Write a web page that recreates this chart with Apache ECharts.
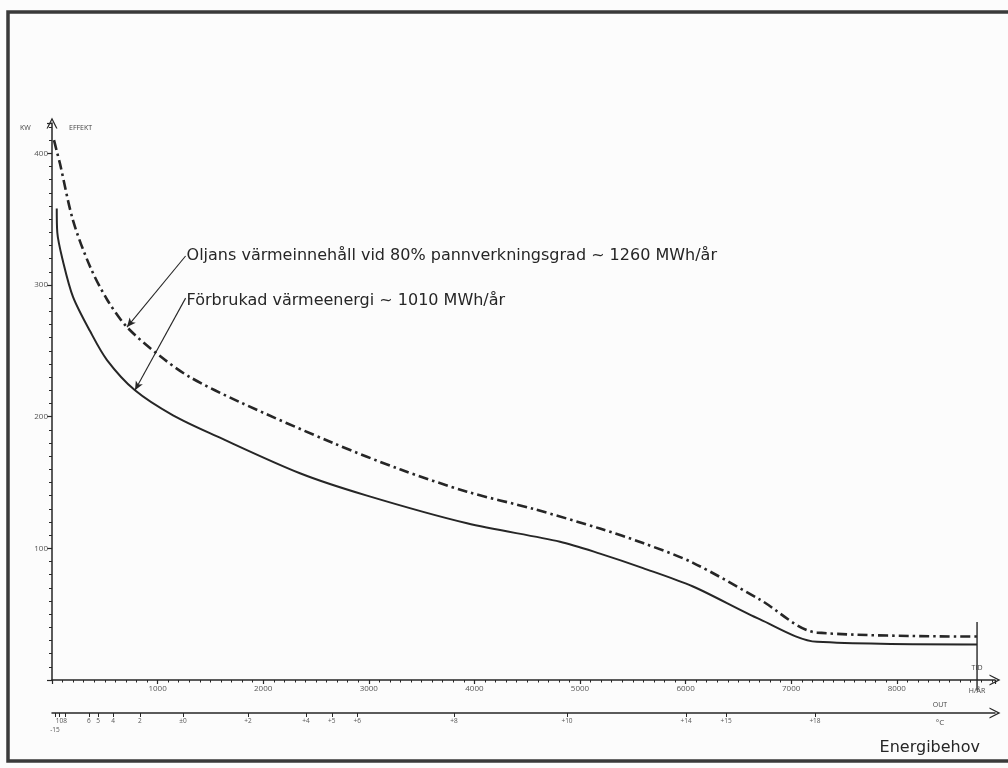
<!DOCTYPE html>
<html><head><meta charset="utf-8">
<script src="https://cdn.jsdelivr.net/npm/echarts@6/dist/echarts.min.js"></script>
<style>html,body{margin:0;padding:0;background:#fcfcfc;overflow:hidden}#c{width:1008px;height:768px}</style>
</head><body><div id="c"></div>
<script>
// ---- data (hours per year, kW) ----
const hoursUsed = [45, 50, 104, 199, 360, 521, 786, 1146, 1563, 2348, 2983, 3930, 4811, 5189, 5597, 6070, 6705, 7244, 8760];
const kwUsed    = [358, 340, 318, 291, 265, 243, 220, 201, 185, 157, 140, 119, 105, 96, 85, 71, 46, 29, 27];
const hoursOil  = [19, 47, 76, 199, 360, 521, 710, 1023, 1307, 1780, 2661, 3295, 3930, 4555, 5189, 5597, 6070, 6705, 7244, 8760];
const kwOil     = [410, 401, 392, 349, 314, 289, 268, 246, 230, 211, 180, 160, 143, 130, 115, 104, 89, 61, 36, 33];
const yearEndHours = [8760, 8760];
const yearEndKw = [44, -8];
// outdoor temperature scale (position in hours, label as drawn)
const tempHours  = [0, 28, 70, 125, 350, 436, 578, 833, 1240, 1856, 2405, 2650, 2890, 3807, 4877, 6004, 6383, 7225];
const tempLabels = ['20', '-15', '10', '8', '6', '5', '4', '2', '±0', '+2', '+4', '+5', '+6', '+8', '+10', '+14', '+15', '+18'];
const hourTicks = [1000, 2000, 3000, 4000, 5000, 6000, 7000, 8000];
const kwTicks = [100, 200, 300, 400];
// annotations: text anchor (h, kW) and arrow tip (h, kW)
const oilText = 'Oljans värmeinnehåll vid 80% pannverkningsgrad ~ 1260 MWh/år';
const oilFrom = [1265, 322]; const oilTip = [710, 268];
const usedText = 'Förbrukad värmeenergi ~ 1010 MWh/år';
const usedFrom = [1265, 290]; const usedTip = [786, 220];

const ink = '#262626';
const font = 'DejaVu Sans';
const smallFont = 'Open Sans';
const chevron = 'path://M0,10 L5,0 L10,10 L8.8,10 L5,2.6 L1.2,10 Z';
const zip = (a, b) => a.map((v, i) => [v, b[i]]);

const chart = echarts.init(document.getElementById('c'));
chart.setOption({
  backgroundColor: '#fcfcfc',
  animation: false,
  textStyle: {fontFamily: smallFont},
  grid: {left: 52, right: 13, top: 123, bottom: 88, containLabel: false},
  xAxis: [{
    type: 'value', min: 0, max: 8930, interval: 1000,
    axisLine: {show: true, onZero: false, symbol: ['none', chevron], symbolSize: [11, 12], lineStyle: {color: ink, width: 1.5}},
    axisTick: {show: true, length: 4, lineStyle: {color: ink, width: 1.2}},
    minorTick: {show: true, splitNumber: 10, length: 2.5, lineStyle: {color: ink}},
    axisLabel: {showMinLabel: false, showMaxLabel: false, fontSize: 8, color: '#555', margin: 5,
      formatter: v => hourTicks.includes(v) ? String(v) : ''},
    splitLine: {show: false}
  }, {
    type: 'value', min: 0, max: 8930, position: 'bottom', offset: 33,
    axisLine: {show: true, onZero: false, symbol: ['none', chevron], symbolSize: [11, 12], lineStyle: {color: ink, width: 1.5}},
    axisTick: {show: true, customValues: tempHours, length: 4, lineStyle: {color: ink}},
    axisLabel: {customValues: tempHours, fontSize: 6.5, color: '#555', margin: 4, lineHeight: 9,
      formatter: v => { const i = tempHours.indexOf(v); const t = i >= 0 ? tempLabels[i] : ''; return t === '-15' ? '\n' + t : t; }},
    splitLine: {show: false}
  }],
  yAxis: {
    type: 'value', min: 0, max: 423, interval: 100,
    axisLine: {show: true, onZero: false, symbol: ['none', chevron], symbolSize: [11, 12], lineStyle: {color: ink, width: 1.5}},
    axisTick: {show: true, length: 5, lineStyle: {color: ink, width: 1.2}},
    minorTick: {show: true, splitNumber: 10, length: 3, lineStyle: {color: ink}},
    axisLabel: {showMinLabel: false, showMaxLabel: false, fontSize: 8, color: '#555', margin: 4,
      formatter: v => kwTicks.includes(v) ? String(v) : ''},
    splitLine: {show: false}
  },
  series: [{
    name: 'Förbrukad', type: 'line', data: zip(hoursUsed, kwUsed), smooth: 0.3, symbol: 'none',
    lineStyle: {color: ink, width: 2},
    markLine: {silent: true, symbol: ['none', 'arrow'], symbolSize: [6, 9], label: {show: false},
      lineStyle: {type: 'solid', color: ink, width: 1.1},
      data: [[{coord: usedFrom}, {coord: usedTip}]]}
  }, {
    name: 'Oljans', type: 'line', data: zip(hoursOil, kwOil), smooth: 0.3, symbol: 'none',
    lineStyle: {color: ink, width: 2.6, type: [10, 4, 2.5, 4]},
    markLine: {silent: true, symbol: ['none', 'arrow'], symbolSize: [6, 9], label: {show: false},
      lineStyle: {type: 'solid', color: ink, width: 1.1},
      data: [[{coord: oilFrom}, {coord: oilTip}]]}
  }, {
    name: 'yearEnd', type: 'line', data: zip(yearEndHours, yearEndKw), symbol: 'none', clip: false,
    lineStyle: {color: ink, width: 1.4}
  }]
});

const px = (h, k) => chart.convertToPixel({gridIndex: 0}, [h, k]);
const pOil = px(oilFrom[0], oilFrom[1]);
const pUsed = px(usedFrom[0], usedFrom[1]);
const yTop = px(0, 423);
const xEnd = px(8760, 0);
const tempAxisY = xEnd[1] + 33;
const label = (x, y, text, size, family, align, color) => ({type: 'text', x: x, y: y, silent: true,
  style: {text: text, fontSize: size, fontFamily: family, fill: color || '#444', textAlign: align || 'left', textVerticalAlign: 'middle'}});
chart.setOption({
  graphic: [
    {type: 'polyline', shape: {points: [[1010, 12], [8, 12], [8, 761], [1010, 761]]}, style: {fill: 'none', stroke: '#3a3a3a', lineWidth: 3.5}, silent: true},
    label(pOil[0] + 1, pOil[1], oilText, 16, font, 'left', ink),
    label(pUsed[0] + 1, pUsed[1] + 3, usedText, 16, font, 'left', ink),
    label(yTop[0] - 32, yTop[1] + 5, 'KW', 7, smallFont),
    label(yTop[0] + 17, yTop[1] + 5, 'EFFEKT', 7, smallFont),
    label(xEnd[0], xEnd[1] - 12, 'TID', 7, smallFont, 'center'),
    label(xEnd[0], xEnd[1] + 11, 'H/ÅR', 7, smallFont, 'center'),
    label(940, tempAxisY - 8, 'OUT', 7, smallFont, 'center'),
    label(940, tempAxisY + 10, '°C', 8, smallFont, 'center'),
    label(980, 748, 'Energibehov', 16, font, 'right', ink)
  ]
});
</script>
</body></html>
